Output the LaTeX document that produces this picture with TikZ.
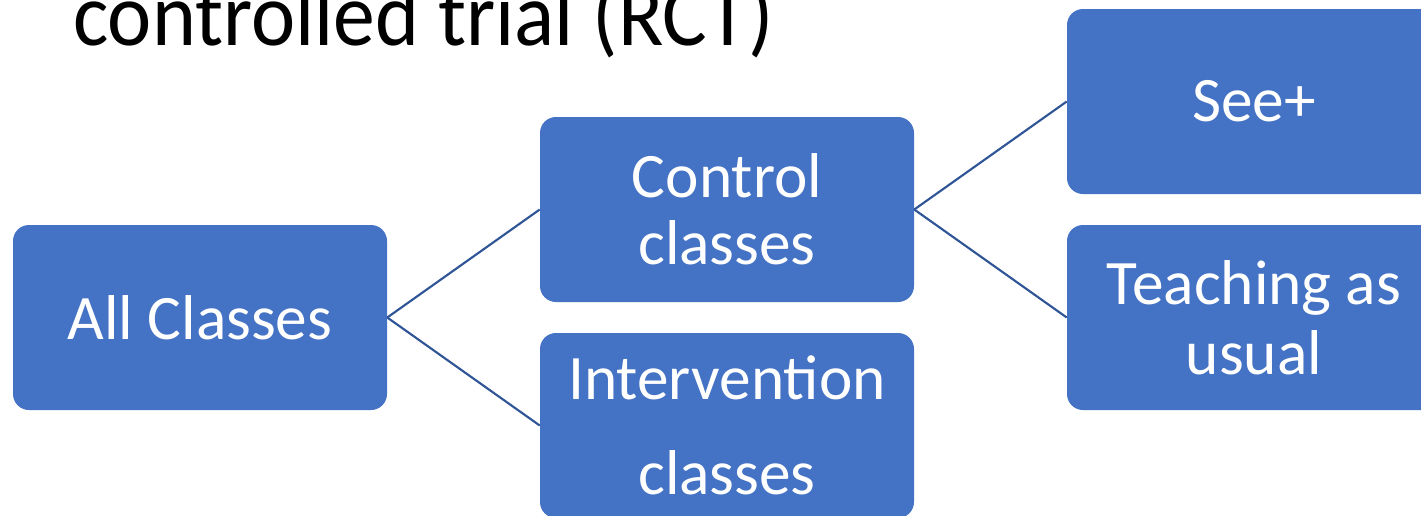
\documentclass[tikz,border=0pt]{standalone}
\usepackage{fontspec}
\setmainfont{Carlito}
\definecolor{boxblue}{HTML}{4472C4}
\definecolor{linkblue}{HTML}{2F5597}
\tikzset{
  stagebox/.style={draw=none, fill=boxblue, rounded corners=12pt, inner sep=0pt,
    minimum width=280.5pt, minimum height=138.75pt, text=white, align=center,
    font=\fontsize{47.5}{50}\selectfont},
  link/.style={draw=linkblue, line width=1.6pt}
}
\begin{document}
\begin{tikzpicture}[x=0.75pt,y=-0.75pt]
\useasboundingbox (0,0) rectangle (1421,515);
\clip (0,0) rectangle (1421,515);
\node[anchor=base west, inner sep=0pt, xscale=0.93, font=\fontsize{67.5}{70}\selectfont] (title) at (73,45) {controlled trial (RCT)};
\node[stagebox] (all) at (200,317.5) {All Classes};
\node[stagebox] (ctrl) at (727,209.5) {Control\\classes};
\node[stagebox, font=\fontsize{47.5}{71}\selectfont] (intv) at (727,425.5) {Intervention\\classes};
\node[stagebox] (see) at (1254,101.5) {See+};
\node[stagebox, font=\fontsize{47.5}{52.5}\selectfont] (tau) at (1254,317.5) {Teaching as\\usual};
\draw[link] (all.east) -- (ctrl.west);
\draw[link] (all.east) -- (intv.west);
\draw[link] (ctrl.east) -- (see.west);
\draw[link] (ctrl.east) -- (tau.west);
\end{tikzpicture}
\end{document}
